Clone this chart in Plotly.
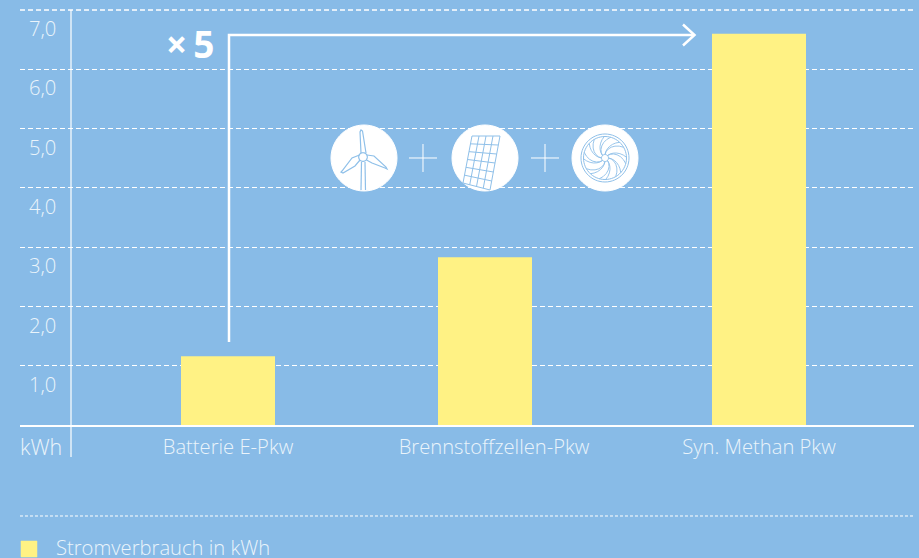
import math
import plotly.graph_objects as go

categories = ["Batterie E-Pkw", "Brennstoffzellen-Pkw", "Syn. Methan Pkw"]
bar_centres = [228, 485, 759]
label_centres = [228, 494, 759]
values = [1.16, 2.83, 6.6]
y_ticks = [1, 2, 3, 4, 5, 6, 7]
y_labels = ["1,0", "2,0", "3,0", "4,0", "5,0", "6,0", "7,0"]
series_name = "Stromverbrauch in kWh"
unit = "kWh"

BG = "#88BBE7"
BAR = "#FFF284"
TXT = "#EAF4FB"
FONT = "Open Sans"
W, H = 919, 558
L, R, T, B = 20, 914, 10, 425


def px(x):
    return x / W


def py(y):
    return 1 - y / H


def path(points, close=False):
    s = "M" + " L".join(f"{px(x):.5f},{py(y):.5f}" for x, y in points)
    return s + (" Z" if close else "")


def line_shape(points, color="white", width=1.0, dash=None, close=False, fill=None):
    ln = dict(color=color, width=width)
    if dash:
        ln["dash"] = dash
    d = dict(type="path", xref="paper", yref="paper", path=path(points, close), line=ln, layer="above")
    if fill:
        d["fillcolor"] = fill
    return d


def circle(cx, cy, r, fill=None, color=None, width=1.0):
    pts = [(cx + r * math.cos(i * math.pi / 30), cy + r * math.sin(i * math.pi / 30)) for i in range(60)]
    if color is None:
        color = fill
    return line_shape(pts, color=color, width=width, close=True, fill=fill)


shapes = []
ICON = "#8FC0E9"

# top gridline, vertical axis, lower dashed rule, swatch
shapes.append(line_shape([(L, T), (R, T)], width=1.3, dash="5px,3px"))
shapes.append(line_shape([(71, 10), (71, 457)], width=1.2))
shapes.append(line_shape([(20, 516), (R, 516)], width=1, dash="3px,2px"))
shapes.append(line_shape([(21, 541), (37, 541), (37, 557), (21, 557)], color=BAR, width=0.5, close=True, fill=BAR))

# x5 arrow
shapes.append(line_shape([(229, 342), (229, 35), (694, 35)], width=2.5))
shapes.append(line_shape([(683, 24.5), (694.5, 35), (683, 45.5)], width=2.5))

# plus signs
for c in (423, 545):
    shapes.append(line_shape([(c - 14, 158), (c + 14, 158)], width=1))
    shapes.append(line_shape([(c, 144), (c, 172)], width=1))

# icon discs
for c in (364, 485, 605):
    shapes.append(circle(c, 158, 33, fill="white"))

# wind turbine
hx, hy = 363, 157
shapes.append(line_shape([(361.5, 162), (361, 190)], color=ICON, width=1.2))
shapes.append(line_shape([(365, 162), (365.5, 190)], color=ICON, width=1.2))
shapes.append(circle(hx, hy, 4.3, fill="white", color=ICON, width=1.2))
for pts in (
    [(361, 153), (360, 132), (361, 130), (362.5, 131), (366, 153)],
    [(359.5, 155), (352, 158), (342, 171), (341, 172), (343, 173), (355, 166), (360, 160)],
    [(367, 155), (374, 156), (386, 167), (387, 169), (385, 168), (372, 163), (366.5, 160)],
):
    shapes.append(line_shape(pts, color=ICON, width=1.2))

# solar panel
tl, tr, br, bl = (472, 136), (500, 136), (490, 190), (463, 183)
for i in range(5):
    f = i / 4
    a = (tl[0] + (tr[0] - tl[0]) * f, tl[1] + (tr[1] - tl[1]) * f)
    b = (bl[0] + (br[0] - bl[0]) * f, bl[1] + (br[1] - bl[1]) * f)
    shapes.append(line_shape([a, b], color=ICON, width=1))
for j in range(7):
    f = j / 6
    a = (tl[0] + (bl[0] - tl[0]) * f, tl[1] + (bl[1] - tl[1]) * f)
    b = (tr[0] + (br[0] - tr[0]) * f, tr[1] + (br[1] - tr[1]) * f)
    shapes.append(line_shape([a, b], color=ICON, width=1))

# fan
fx, fy = 605, 158
shapes.append(circle(fx, fy, 24, color=ICON, width=1))
shapes.append(circle(fx, fy, 21.5, color=ICON, width=1))
shapes.append(circle(fx, fy, 3.5, color=ICON, width=1))
for k in range(8):
    t = k * math.pi / 4
    pts_a, pts_b = [], []
    for i in range(7):
        f = i / 6
        r = 3.5 + f * 18
        pts_a.append((fx + r * math.cos(t + 0.75 * f), fy + r * math.sin(t + 0.75 * f)))
        pts_b.append((fx + r * math.cos(t + 1.05 * f), fy + r * math.sin(t + 1.05 * f)))
    shapes.append(line_shape(pts_a, color=ICON, width=0.9))
    shapes.append(line_shape(pts_b, color=ICON, width=0.9))

font = dict(family=FONT, size=20.2, color=TXT, weight=300)
annotations = [
    dict(xref="paper", yref="paper", x=px(18), y=py(446), text=unit, showarrow=False,
         xanchor="left", yanchor="middle", font=dict(family=FONT, size=21.5, color=TXT, weight=300)),
    dict(xref="paper", yref="paper", x=px(54), y=py(547), text=series_name, showarrow=False,
         xanchor="left", yanchor="middle", font=font),
    dict(xref="paper", yref="paper", x=px(190), y=py(44), text="×\u20095", showarrow=False,
         xanchor="center", yanchor="middle", font=dict(family=FONT, size=37, color="white", weight=700)),
]

fig = go.Figure(
    go.Bar(x=bar_centres, y=values, width=94, marker=dict(color=BAR, line=dict(width=0)),
           name=series_name, showlegend=False, hovertemplate="%{y}<extra></extra>")
)
fig.update_layout(
    width=W, height=H, autosize=False,
    paper_bgcolor=BG, plot_bgcolor=BG,
    margin=dict(l=0, r=0, t=0, b=0),
    showlegend=False,
    shapes=shapes,
    annotations=annotations,
    xaxis=dict(domain=[L / W, R / W], range=[L, R], tickmode="array",
               tickvals=label_centres, ticktext=categories, showgrid=False, zeroline=False,
               showline=True, linecolor="white", linewidth=1.5, ticks="", tickfont=font,
               ticklabelstandoff=3),
    yaxis=dict(domain=[1 - B / H, 1 - T / H], range=[0, 7], tickmode="array",
               tickvals=y_ticks, ticktext=y_labels, showgrid=True, gridcolor="white", gridwidth=1.3,
               griddash="5px,3px", zeroline=False, showline=False, ticks="", tickfont=font,
               ticklabelposition="inside", ticklabelshift=19, ticklabelstandoff=6),
)
fig.write_html("out.html", config=dict(displayModeBar=False), post_script="document.body.style.margin='0';")
